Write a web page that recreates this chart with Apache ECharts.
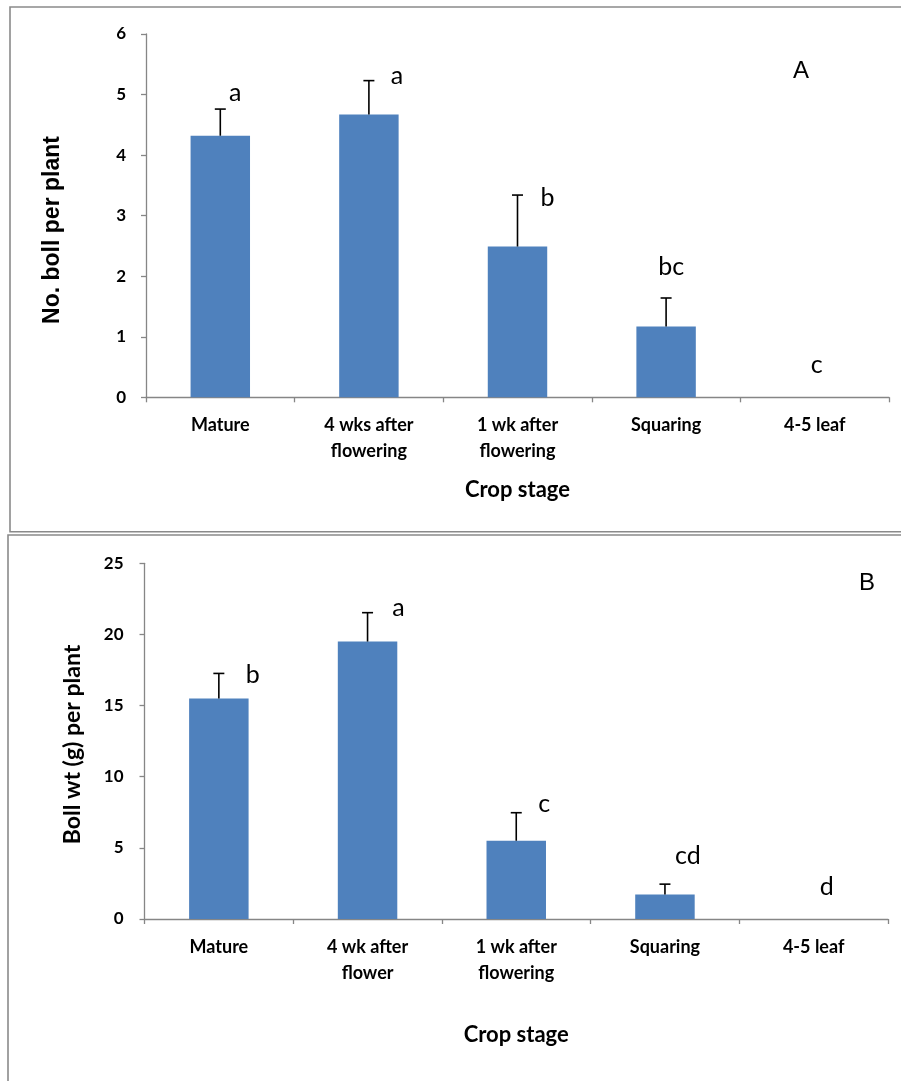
<!DOCTYPE html>
<html>
<head>
<meta charset="utf-8">
<script src="https://cdn.jsdelivr.net/npm/echarts@6/dist/echarts.min.js"></script>
<style>
  html, body { margin: 0; padding: 0; background: #fff; }
  #chart { width: 901px; height: 1081px; }
</style>
</head>
<body>
<div id="chart"></div>
<script>
// Crop stages (category labels) for each panel
const stagesA = ['Mature', '4 wks after\nflowering', '1 wk after\nflowering', 'Squaring', '4-5 leaf'];
const stagesB = ['Mature', '4 wk after\nflower', '1 wk after\nflowering', 'Squaring', '4-5 leaf'];

// Panel A: number of bolls per plant, standard errors, significance letters
const bollCount = [4.32, 4.67, 2.49, 1.17, 0];
const bollCountErr = [0.44, 0.56, 0.85, 0.47, 0];
const bollCountLetters = ['a', 'a', 'b', 'bc', 'c'];

// Panel B: boll weight (g) per plant, standard errors, significance letters
const bollWeight = [15.5, 19.5, 5.5, 1.73, 0];
const bollWeightErr = [1.76, 2.03, 1.97, 0.72, 0];
const bollWeightLetters = ['b', 'a', 'c', 'cd', 'd'];

// Pixel nudges for the significance letters, relative to each error-bar top
const letterShiftA = [[15, -16], [28, -5], [30, 3], [5, -31], [2, -32]];
const letterShiftB = [[34, 2], [31, -5], [28, -9], [23, -28], [13, -32]];

const BAR = '#4F81BD';
const AXIS = '#868686';
const TICK_FONT = 'Lato, "Open Sans", sans-serif';

function errorBars(values, errs, gridIndex) {
  return {
    type: 'custom',
    xAxisIndex: gridIndex,
    yAxisIndex: gridIndex,
    z: 5,
    silent: true,
    data: values.map((v, i) => [i, v, errs[i]]),
    renderItem: function (params, api) {
      const i = api.value(0), v = api.value(1), e = api.value(2);
      if (!e) return null;
      const base = api.coord([i, v]);
      const top = api.coord([i, v + e]);
      const half = 5.5;
      const st = { stroke: '#000', lineWidth: 1.6 };
      return {
        type: 'group',
        children: [
          { type: 'line', shape: { x1: base[0], y1: base[1], x2: top[0], y2: top[1] }, style: st },
          { type: 'line', shape: { x1: top[0] - half, y1: top[1], x2: top[0] + half, y2: top[1] }, style: st }
        ]
      };
    }
  };
}

function letterMarks(values, errs, letters, shifts, gridIndex) {
  return {
    type: 'custom',
    xAxisIndex: gridIndex,
    yAxisIndex: gridIndex,
    z: 6,
    silent: true,
    data: values.map((v, i) => [i, v + errs[i]]),
    renderItem: function (params, api) {
      const i = api.value(0);
      const p = api.coord([i, api.value(1)]);
      const s = shifts[i];
      return {
        type: 'text',
        x: p[0] + s[0],
        y: p[1] + s[1],
        style: {
          text: letters[i],
          fill: '#000',
          font: '25px Lato, "Open Sans", sans-serif',
          align: 'center',
          verticalAlign: 'middle'
        }
      };
    }
  };
}

function valueAxis(gridIndex, max, interval, margin) {
  return {
    gridIndex: gridIndex,
    type: 'value',
    min: 0,
    max: max,
    interval: interval,
    axisLine: { show: true, lineStyle: { color: AXIS, width: 1.3 } },
    axisTick: { show: true, length: 5, lineStyle: { color: AXIS, width: 1.3 } },
    splitLine: { show: false },
    axisLabel: { margin: margin, color: '#000', fontFamily: TICK_FONT, fontWeight: 'bold', fontSize: 17 }
  };
}

function categoryAxis(gridIndex, cats, nameGap) {
  return {
    gridIndex: gridIndex,
    type: 'category',
    data: cats,
    boundaryGap: true,
    axisLine: { show: true, lineStyle: { color: AXIS, width: 1.3 } },
    axisTick: { show: true, length: 5, alignWithLabel: false, lineStyle: { color: AXIS, width: 1.3 } },
    axisLabel: {
      interval: 0, margin: 15, lineHeight: 26, color: '#000',
      fontFamily: TICK_FONT, fontWeight: 'bold', fontSize: 18
    },
    name: 'Crop stage',
    nameLocation: 'middle',
    nameGap: nameGap,
    nameTextStyle: { color: '#000', fontFamily: TICK_FONT, fontWeight: 'bold', fontSize: 22 }
  };
}

const chart = echarts.init(document.getElementById('chart'), null, { renderer: 'canvas' });

chart.setOption({
  animation: false,
  backgroundColor: '#fff',
  grid: [
    { left: 146, top: 34, width: 743, height: 363.3 },
    { left: 144.5, top: 563.3, width: 743.5, height: 355.7 }
  ],
  xAxis: [categoryAxis(0, stagesA, 82), categoryAxis(1, stagesB, 105)],
  yAxis: [valueAxis(0, 6, 1, 20), valueAxis(1, 25, 5, 21)],
  series: [
    { type: 'bar', xAxisIndex: 0, yAxisIndex: 0, data: bollCount, barWidth: '40%', itemStyle: { color: BAR } },
    errorBars(bollCount, bollCountErr, 0),
    letterMarks(bollCount, bollCountErr, bollCountLetters, letterShiftA, 0),
    { type: 'bar', xAxisIndex: 1, yAxisIndex: 1, data: bollWeight, barWidth: '40%', itemStyle: { color: BAR } },
    errorBars(bollWeight, bollWeightErr, 1),
    letterMarks(bollWeight, bollWeightErr, bollWeightLetters, letterShiftB, 1)
  ],
  graphic: [
    // panel frames
    { type: 'rect', shape: { x: 10, y: 7, width: 900, height: 524.7 }, style: { fill: null, stroke: '#8a8a8a', lineWidth: 1.6 }, z: -1 },
    { type: 'rect', shape: { x: 8, y: 535, width: 900, height: 600 }, style: { fill: null, stroke: '#8a8a8a', lineWidth: 1.6 }, z: -1 },
    // y-axis titles
    {
      type: 'text', x: 52.5, y: 230, rotation: Math.PI / 2,
      style: { text: 'No. boll per plant', fill: '#000', font: 'bold 23px "Liberation Sans", Arial, sans-serif', align: 'center', verticalAlign: 'middle' }
    },
    {
      type: 'text', x: 72.5, y: 744.5, rotation: Math.PI / 2,
      style: { text: 'Boll wt (g) per plant', fill: '#000', font: 'bold 23px Lato, "Open Sans", sans-serif', align: 'center', verticalAlign: 'middle' }
    },
    // panel labels
    { type: 'text', x: 801, y: 71, style: { text: 'A', fill: '#000', font: '24px "Liberation Sans", Arial, sans-serif', align: 'center', verticalAlign: 'middle' } },
    { type: 'text', x: 867, y: 583, style: { text: 'B', fill: '#000', font: '24px "Liberation Sans", Arial, sans-serif', align: 'center', verticalAlign: 'middle' } }
  ]
});
</script>
</body>
</html>
